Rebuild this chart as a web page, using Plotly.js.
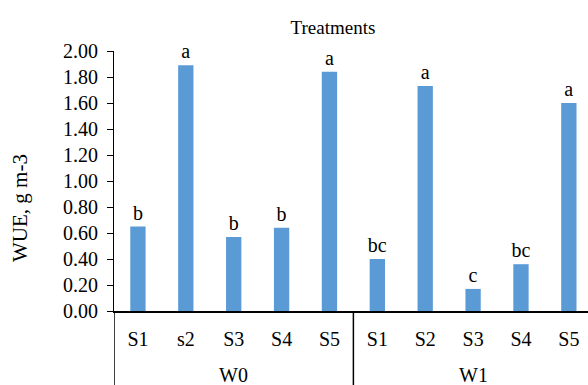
<!DOCTYPE html>
<html>
<head>
<meta charset="utf-8">
<script src="https://cdn.plot.ly/plotly-3.0.1.min.js"></script>
<style>html,body{margin:0;padding:0;background:#fff;}#chart{width:588px;height:385px;}</style>
</head>
<body>
<div id="chart"></div>
<script>
const groups = ["W0","W0","W0","W0","W0","W1","W1","W1","W1","W1"];
const subCategories = ["S1","s2","S3","S4","S5","S1","S2","S3","S4","S5"];
const wueValues = [0.65, 1.89, 0.57, 0.64, 1.84, 0.40, 1.73, 0.17, 0.36, 1.60];
const letters = ["b","a","b","b","a","bc","a","c","bc","a"];
const yTickVals = [0,0.2,0.4,0.6,0.8,1.0,1.2,1.4,1.6,1.8,2.0];
const groupNames = ["W0","W1"];

const FAMILY = "Liberation Serif, Times New Roman, serif";
const f = (size) => ({family: FAMILY, color: "#000", size: size});

// unique category keys, one per bar
const keys = groups.map((g, i) => g + "|" + subCategories[i]);

const trace = {
  type: "bar",
  x: keys,
  y: wueValues,
  text: letters,
  textposition: "outside",
  constraintext: "none",
  cliponaxis: false,
  textfont: f(20),
  marker: {color: "#5B9BD5"},
  hoverinfo: "none"
};

// group label annotations and divider shapes, placed at category boundaries
const plotW = 474, plotH = 260, marginL = 114;
const annotations = [];
const shapes = [];
groupNames.forEach((gName) => {
  const idx = groups.map((g, i) => g === gName ? i : -1).filter(i => i >= 0);
  const first = idx[0], last = idx[idx.length - 1];
  annotations.push({
    xref: "x", yref: "paper",
    x: (first + last) / 2, y: -(375 - 311) / plotH,
    text: gName, showarrow: false, font: f(20),
    xanchor: "center", yanchor: "middle"
  });
  shapes.push({
    type: "line", xref: "x", yref: "paper",
    x0: first - 0.5, x1: first - 0.5, y0: 0, y1: -74 / plotH,
    line: {color: "#000", width: 1.5}
  });
});

annotations.push({
  xref: "paper", yref: "paper",
  x: (20 - marginL) / plotW, y: (311 - 208) / plotH,
  text: "WUE, g m-3", textangle: -90, showarrow: false, font: f(21),
  xanchor: "center", yanchor: "middle"
});

const layout = {
  width: 588, height: 385,
  margin: {l: 114, r: 0, t: 51, b: 74},
  paper_bgcolor: "#fff", plot_bgcolor: "#fff",
  font: f(20),
  showlegend: false,
  bargap: 0.68,
  title: {text: "Treatments", x: 333/588, xanchor: "center", xref: "container",
          y: 1 - 27/385, yanchor: "middle", yref: "container", font: f(19)},
  xaxis: {
    type: "category",
    range: [-0.5, 9.4],
    tickvals: keys, ticktext: subCategories,
    showline: true, linecolor: "#000", linewidth: 2,
    ticks: "", ticklabelstandoff: 9,
    showgrid: false, zeroline: false,
    tickfont: f(20)
  },
  yaxis: {
    range: [0, 2],
    tickvals: yTickVals,
    tickformat: ".2f",
    ticks: "outside", ticklen: 6, tickcolor: "#000", tickwidth: 1,
    ticklabelstandoff: 5,
    showline: true, linecolor: "#000", linewidth: 1,
    showgrid: false, zeroline: false,
    tickfont: f(20)
  },
  annotations: annotations,
  shapes: shapes
};

Plotly.newPlot("chart", [trace], layout, {staticPlot: true});
</script>
</body>
</html>
